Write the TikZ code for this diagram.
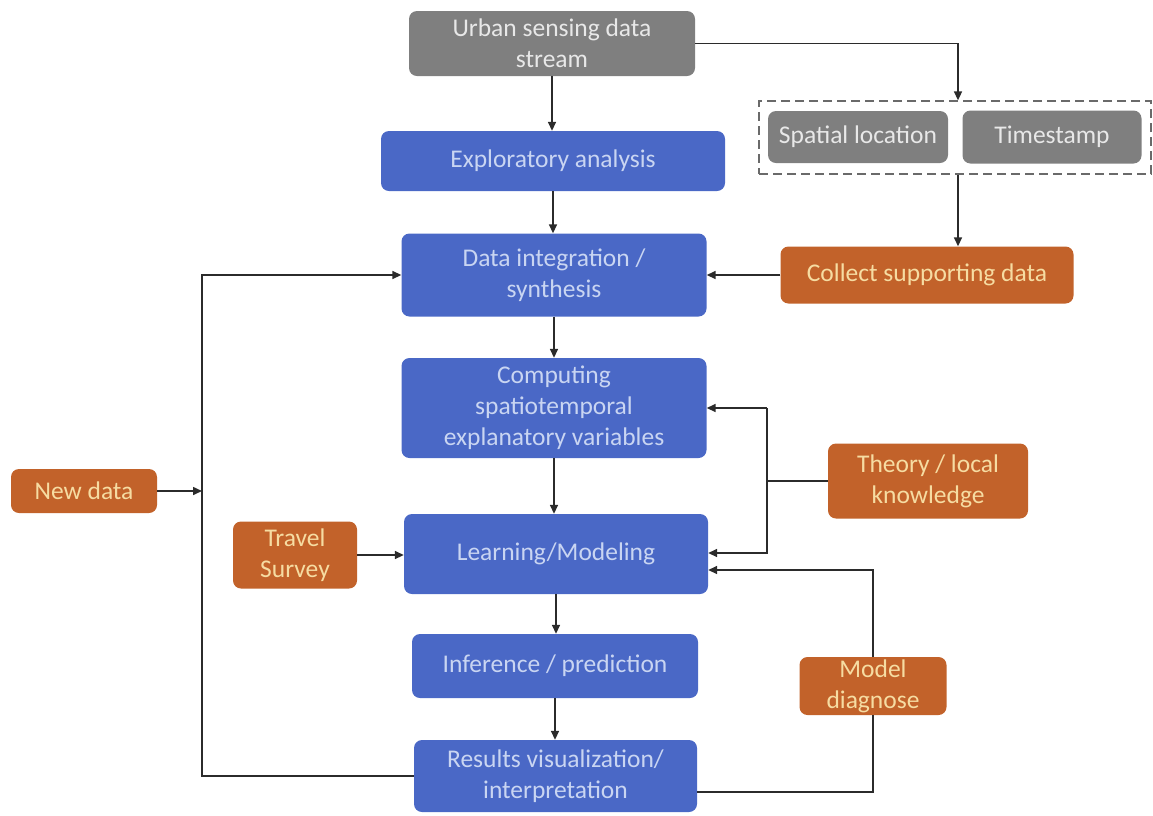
\documentclass[tikz,border=0pt]{standalone}
\usepackage{fontspec}
\setmainfont{Carlito}
\usetikzlibrary{arrows.meta,calc}
\definecolor{boxgray}{HTML}{7F7F7F}
\definecolor{boxblue}{HTML}{4A68C6}
\definecolor{boxorange}{HTML}{C2622A}
\definecolor{txtgray}{HTML}{E8E8E8}
\definecolor{txtblue}{HTML}{C9D5F2}
\definecolor{txtorange}{HTML}{F6DCA2}
\definecolor{linecol}{HTML}{2B2B2B}
\definecolor{dashcol}{HTML}{6A6A6A}
\begin{document}
\begin{tikzpicture}[x=1pt,y=-1pt,
  base/.style={rounded corners=8pt, align=center, inner sep=0pt,
    font=\fontsize{25.5}{31}\selectfont},
  graybox/.style={base, fill=boxgray, text=txtgray},
  bluebox/.style={base, fill=boxblue, text=txtblue},
  orangebox/.style={base, fill=boxorange, text=txtorange},
  sz/.style 2 args={minimum width=#1pt, minimum height=#2pt},
  link/.style={draw=linecol, line width=1.6pt},
  arr/.style={link, -{Triangle[length=9pt,width=8pt]}}
]
\useasboundingbox (0,0) rectangle (1153,815);

% main pipeline
\node[graybox, sz={286}{65}] (urban) at (552,43.5) {Urban sensing data\\stream};
\node[bluebox, sz={344}{60}] (expl) at (553,161) {Exploratory analysis};
\node[bluebox, sz={305}{83}] (datai) at (554,275) {Data integration /\\synthesis};
\node[bluebox, sz={305}{100}] (comp) at (554,408) {Computing\\spatiotemporal\\explanatory variables};
\node[bluebox, sz={304}{80}] (learn) at (556,554) {Learning/Modeling};
\node[bluebox, sz={286}{64}] (infer) at (555,666) {Inference / prediction};
\node[bluebox, sz={283}{72}] (results) at (555.5,776) {Results visualization/\\interpretation};

% data attributes
\node[draw=dashcol, dash pattern=on 9pt off 5pt, line width=1.3pt, sz={392}{73}] (attrs) at (955,137.5) {};
\node[graybox, sz={180}{52}] (spatial) at (858,137) {Spatial location};
\node[graybox, sz={179}{53}] (time) at (1052,137) {Timestamp};

% external inputs
\node[orangebox, sz={293}{57}] (collect) at (927,275) {Collect supporting data};
\node[orangebox, sz={146}{44}] (newdata) at (84,491) {New data};
\node[orangebox, sz={124}{67}] (travel) at (295,555) {Travel\\Survey};
\node[orangebox, sz={200}{75}] (theory) at (928,481) {Theory / local\\knowledge};
\node[orangebox, sz={147}{58}] (diag) at (873,686) {Model\\diagnose};

% bus positions
\coordinate (tap) at (958,0);
\coordinate (lbus) at (202,0);
\coordinate (tbus) at (767,0);

% vertical flow
\draw[arr] (urban.south) -- (urban.south |- expl.north);
\draw[arr] (expl.south) -- (expl.south |- datai.north);
\draw[arr] (datai.south) -- (datai.south |- comp.north);
\draw[arr] (comp.south) -- (comp.south |- learn.north);
\draw[arr] (learn.south) -- (learn.south |- infer.north);
\draw[arr] (infer.south) -- (infer.south |- results.north);

% attributes branch
\draw[arr] (urban.east) -| (attrs.north -| tap);
\draw[arr] (attrs.south -| tap) -- (collect.north -| tap);
\draw[arr] (collect.west) -- (datai.east);

% feedback loop on the left
\draw[arr] (results.west) -- (results.west -| lbus) -- (datai.west -| lbus) -- (datai.west);
\draw[arr] (newdata.east) -- (newdata.east -| lbus);
\draw[arr] (travel.east) -- (travel.east -| learn.west);

% theory input
\draw[link] (theory.west) -- (theory.west -| tbus);
\draw[arr] (comp.east -| tbus) -- (comp.east);
\draw[arr] (comp.east -| tbus) -- ($(learn.east -| tbus)+(0,-1)$) -- ($(learn.east)+(0,-1)$);

% model diagnosis loop
\draw[arr] (diag.north) |- ($(learn.east)+(0,16)$);
\draw[link] (diag.south) |- ($(results.east)+(0,16)$);
\end{tikzpicture}
\end{document}
